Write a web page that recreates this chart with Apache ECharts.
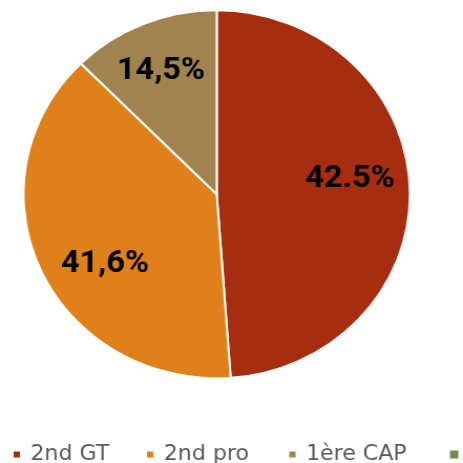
<!DOCTYPE html>
<html>
<head>
<meta charset="utf-8">
<script src="https://cdn.jsdelivr.net/npm/echarts@6/dist/echarts.min.js"></script>
<style>
html,body{margin:0;padding:0;background:#fff;overflow:hidden;}
#main{width:441px;height:463px;transform:scaleX(1.05);transform-origin:0 0;}
</style>
</head>
<body>
<div id="main"></div>
<script>
// Data (slice sizes; label texts as printed)
const categories = ['2nd GT', '2nd pro', '1ère CAP', 'Autre'];
const values = [48.8, 38.7, 12.4, 0];
const labelTexts = ['42.5%', '41,6%', '14,5%', ''];
const colors = ['#A62D10', '#DF801A', '#A0834F', '#72894F'];

const labelOffsets = [[32, -12], [-20, 31], [-17, -35], [0, 0]];
const legendLefts = [11, 138, 273.5, 428.5];

const chart = echarts.init(document.getElementById('main'));
const data = categories.map((c, i) => ({
  name: c,
  value: values[i],
  itemStyle: { color: colors[i], borderWidth: values[i] > 0 ? 2 : 0 },
  label: { show: values[i] > 0, offset: labelOffsets[i], formatter: labelTexts[i] }
}));

chart.setOption({
  animation: false,
  legend: categories.map((c, i) => ({
    data: [c],
    left: legendLefts[i],
    top: 444,
    padding: 0,
    width: 2000,
    itemWidth: 8,
    itemHeight: 8,
    icon: 'rect',
    textStyle: { fontFamily: 'DejaVu Sans', fontSize: 21, color: '#595959', padding: [0, 0, 0, 4] }
  })),
  series: [{
    type: 'pie',
    center: [206.4, 194.3],
    radius: [0, 184],
    startAngle: 90,
    clockwise: true,
    silent: true,
    itemStyle: { borderColor: '#ffffff', borderWidth: 2 },
    label: {
      position: 'inside',
      color: '#000000',
      fontFamily: 'Roboto',
      fontWeight: 'bold',
      fontSize: 31
    },
    labelLine: { show: false },
    data: data
  }]
});
</script>
</body>
</html>
